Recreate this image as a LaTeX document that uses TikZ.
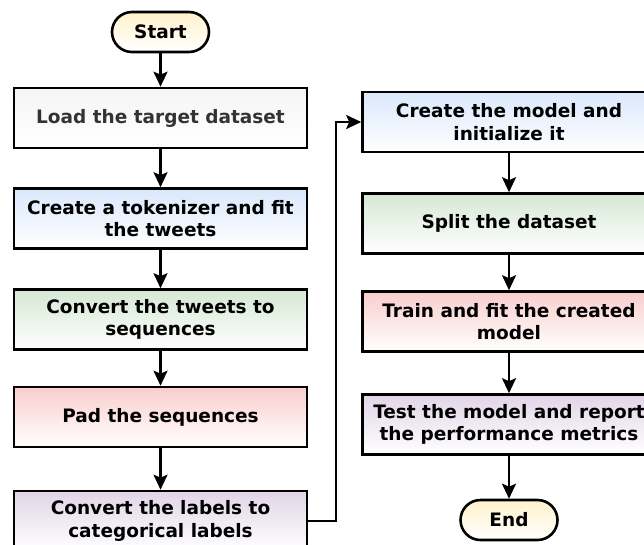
\documentclass[tikz,border=0pt]{standalone}
\usepackage{fontspec}
\setmainfont{DejaVu Sans}
\usetikzlibrary{arrows.meta}
\definecolor{cgray}{HTML}{F5F5F5}
\definecolor{cgraytext}{HTML}{333333}
\definecolor{cblue}{HTML}{DAE8FC}
\definecolor{cgreen}{HTML}{D5E8D4}
\definecolor{cred}{HTML}{F8CECC}
\definecolor{cpurple}{HTML}{E1D5E7}
\definecolor{cyellow}{HTML}{FFF2CC}
\tikzset{
  procbox/.style={draw=black, line width=2.6pt, rectangle, minimum width=293pt, minimum height=60pt,
    inner sep=0pt, align=center, font=\fontsize{18.5}{22.5}\selectfont\bfseries, top color=#1, bottom color=white},
  termbox/.style={draw=black, line width=2.6pt, rounded corners=20pt, minimum width=97pt, minimum height=40pt,
    inner sep=0pt, align=center, font=\fontsize{18.5}{22.5}\selectfont\bfseries, top color=cyellow, bottom color=white},
  flow/.style={line width=2.4pt, -{Stealth[length=15pt,width=14pt,inset=3pt]}}
}
\begin{document}
\begin{tikzpicture}[x=1pt,y=-1pt]
\useasboundingbox (0,0) rectangle (644,544);
\clip (0,0) rectangle (644,544);
\fill[white] (0,0) rectangle (644,544);
\node[termbox] (start) at (160.5,32) {Start};
\node[procbox=cgray, text=cgraytext] (load) at (160.5,118) {Load the target dataset};
\node[procbox=cblue] (tok) at (160.5,218.5) {Create a tokenizer and fit\\the tweets};
\node[procbox=cgreen] (seq) at (160.5,319.5) {Convert the tweets to\\sequences};
\node[procbox=cred] (pad) at (160.5,417) {Pad the sequences};
\node[procbox=cpurple] (lab) at (160.5,521) {Convert the labels to\\categorical labels};
\node[procbox=cblue] (model) at (509,122) {Create the model and\\initialize it};
\node[procbox=cgreen] (split) at (509,223.5) {Split the dataset};
\node[procbox=cred] (train) at (509,321.5) {Train and fit the created\\model};
\node[procbox=cpurple] (test) at (509,424.5) {Test the model and report\\the performance metrics};
\node[termbox] (end) at (509,520) {End};
\draw[flow] (start) -- (load);
\draw[flow] (load) -- (tok);
\draw[flow] (tok) -- (seq);
\draw[flow] (seq) -- (pad);
\draw[flow] (pad) -- (lab);
\draw[flow] (lab.east) -- ++(27.5,0) |- (model.west);
\draw[flow] (model) -- (split);
\draw[flow] (split) -- (train);
\draw[flow] (train) -- (test);
\draw[flow] (test) -- (end);
\end{tikzpicture}
\end{document}
